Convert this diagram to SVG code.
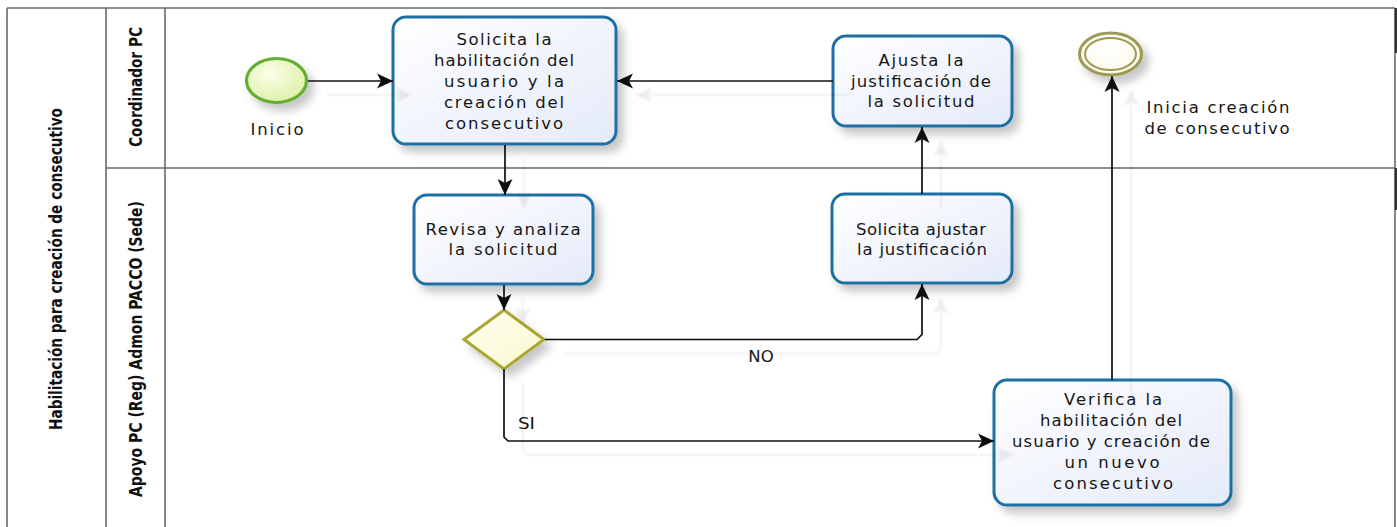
<svg xmlns="http://www.w3.org/2000/svg" width="1397" height="527" viewBox="0 0 1397 527">
<style>
.lane{stroke:#6a6a6a;stroke-width:1.6;fill:none}
.hdr{font-family:"DejaVu Sans Condensed","DejaVu Sans",sans-serif;font-weight:bold;font-stretch:condensed;font-size:18.5px;fill:#111}
.task{fill:url(#gTask);stroke:#1f6fa3;stroke-width:3}
.txt{font-family:"DejaVu Sans","Verdana",sans-serif;font-size:16.5px;fill:#151515;text-anchor:middle}
.lbl{font-family:"DejaVu Sans","Verdana",sans-serif;font-size:16.5px;fill:#151515}
.conn{fill:none;stroke:#111;stroke-width:1.7}
</style>
<defs>
<linearGradient id="gTask" x1="0" y1="0" x2="1" y2="1">
<stop offset="0" stop-color="#ffffff"/><stop offset="1" stop-color="#e4eaf9"/>
</linearGradient>
<radialGradient id="gStart" cx="0.4" cy="0.35" r="0.7">
<stop offset="0" stop-color="#fcfee9"/><stop offset="1" stop-color="#dcf0a6"/>
</radialGradient>
<radialGradient id="gEnd" cx="0.45" cy="0.4" r="0.7">
<stop offset="0" stop-color="#ffffff"/><stop offset="1" stop-color="#fbf8e6"/>
</radialGradient>
<linearGradient id="gGw" x1="0" y1="0" x2="1" y2="1">
<stop offset="0" stop-color="#fefff0"/><stop offset="1" stop-color="#f9f8cf"/>
</linearGradient>
<filter id="nshadow" filterUnits="userSpaceOnUse" x="0" y="0" width="1397" height="527">
<feDropShadow dx="6" dy="7" stdDeviation="4" flood-color="#000" flood-opacity="0.22"/>
</filter>
<filter id="cshadow" filterUnits="userSpaceOnUse" x="0" y="0" width="1397" height="527">
<feOffset in="SourceAlpha" dx="19" dy="14" result="o"/>
<feGaussianBlur in="o" stdDeviation="0.8" result="b"/>
<feFlood flood-color="#000" flood-opacity="0.07"/>
<feComposite in2="b" operator="in" result="s"/>
<feMerge><feMergeNode in="s"/><feMergeNode in="SourceGraphic"/></feMerge>
</filter>
<marker id="arr" markerUnits="userSpaceOnUse" markerWidth="18" markerHeight="18" viewBox="0 0 18 18" refX="17" refY="9" orient="auto">
<path d="M1,1.5 L17,9 L1,16.5 L5,9 Z" fill="#111"/>
</marker>
</defs>
<rect x="0" y="0" width="1397" height="527" fill="#ffffff"/>

<g id="pool">
<path class="lane" d="M7,8 L1395,8 M7,8 L7,527 M106,8 L106,527 M165,8 L165,527 M106,168 L1395,168 M1395,8 L1395,527"/>
<path d="M1396,8 L1396,53 M1396,168 L1396,210" stroke="#333" stroke-width="2.5"/>
<text class="hdr" transform="translate(62,269) rotate(-90)" text-anchor="middle" textLength="322" lengthAdjust="spacingAndGlyphs">Habilitación para creación de consecutivo</text>
</g>
<g id="lane-coordinador">
<text class="hdr" transform="translate(142,87) rotate(-90)" text-anchor="middle" textLength="120" lengthAdjust="spacingAndGlyphs">Coordinador PC</text>
</g>
<g id="lane-apoyo">
<text class="hdr" transform="translate(142,349) rotate(-90)" text-anchor="middle" textLength="296" lengthAdjust="spacingAndGlyphs">Apoyo PC (Reg) Admon PACCO (Sede)</text>
</g>

<g id="start">
<ellipse cx="276.5" cy="80.5" rx="30" ry="22" fill="url(#gStart)" stroke="#62b031" stroke-width="3.2" filter="url(#nshadow)"/>
<text class="lbl" x="277" y="135" text-anchor="middle" textLength="53" lengthAdjust="spacing">Inicio</text>
</g>

<g id="task-solicita">
<rect class="task" x="393" y="17" width="223" height="127" rx="13" filter="url(#nshadow)"/>
<text class="txt" x="504" y="45" textLength="95">Solicita la</text>
<text class="txt" x="504" y="66" textLength="140">habilitación del</text>
<text class="txt" x="504" y="87" textLength="120">usuario  y la</text>
<text class="txt" x="504" y="108" textLength="120">creación del</text>
<text class="txt" x="504" y="129" textLength="118">consecutivo</text>
</g>

<g id="task-ajusta">
<rect class="task" x="833" y="36" width="179" height="90" rx="13" filter="url(#nshadow)"/>
<text class="txt" x="921" y="66" textLength="85">Ajusta la</text>
<text class="txt" x="921" y="86.5" textLength="140">justificación de</text>
<text class="txt" x="921" y="107" textLength="107">la solicitud</text>
</g>

<g id="end">
<ellipse cx="1110.5" cy="54" rx="31" ry="21" fill="url(#gEnd)" stroke="#9c9a52" stroke-width="3" filter="url(#nshadow)"/>
<ellipse cx="1110.5" cy="54" rx="25.5" ry="16" fill="none" stroke="#9c9a52" stroke-width="2"/>
<text class="lbl" x="1218" y="113" text-anchor="middle" textLength="143" lengthAdjust="spacing">Inicia creación</text>
<text class="lbl" x="1217" y="134" text-anchor="middle" textLength="145" lengthAdjust="spacing">de consecutivo</text>
</g>

<g id="task-revisa">
<rect class="task" x="414" y="195" width="179" height="89" rx="13" filter="url(#nshadow)"/>
<text class="txt" x="503" y="235" textLength="155">Revisa y analiza</text>
<text class="txt" x="503" y="255" textLength="109">la solicitud</text>
</g>

<g id="task-solicita-ajustar">
<rect class="task" x="832" y="194" width="180" height="89" rx="13" filter="url(#nshadow)"/>
<text class="txt" x="921" y="235" textLength="130">Solicita ajustar</text>
<text class="txt" x="922" y="255" textLength="130">la justificación</text>
</g>

<g id="gateway">
<polygon points="504,310 544,339.5 504,369 464,339.5" fill="url(#gGw)" stroke="#a9a631" stroke-width="3" filter="url(#nshadow)"/>
</g>

<g id="task-verifica">
<rect class="task" x="994" y="380" width="237" height="125" rx="13" filter="url(#nshadow)"/>
<text class="txt" x="1113" y="405" textLength="98">Verifica la</text>
<text class="txt" x="1111" y="426" textLength="142">habilitación del</text>
<text class="txt" x="1111" y="447" textLength="198">usuario y creación de</text>
<text class="txt" x="1112" y="468" textLength="95">un nuevo</text>
<text class="txt" x="1113" y="489" textLength="120">consecutivo</text>
</g>

<g id="connectors">
<g filter="url(#cshadow)">
<path class="conn" d="M308,81 L393,81" marker-end="url(#arr)"/>
<path class="conn" d="M833,81 L617,81" marker-end="url(#arr)"/>
<path class="conn" d="M505,145 L505,195" marker-end="url(#arr)"/>
<path class="conn" d="M504,285 L504,310" marker-end="url(#arr)"/>
<path class="conn" d="M545,339.5 L917,339.5 L922,334.5 L922,284" marker-end="url(#arr)"/>
<path class="conn" d="M922,194 L922,127" marker-end="url(#arr)"/>
<path class="conn" d="M504,369 L504,437 L508,441 L994,441" marker-end="url(#arr)"/>
<path class="conn" d="M1112,380 L1112,76" marker-end="url(#arr)"/>
</g>
<text class="lbl" x="761" y="362" text-anchor="middle">NO</text>
<text class="lbl" x="518" y="429" textLength="17" lengthAdjust="spacingAndGlyphs">SI</text>
</g>
</svg>
